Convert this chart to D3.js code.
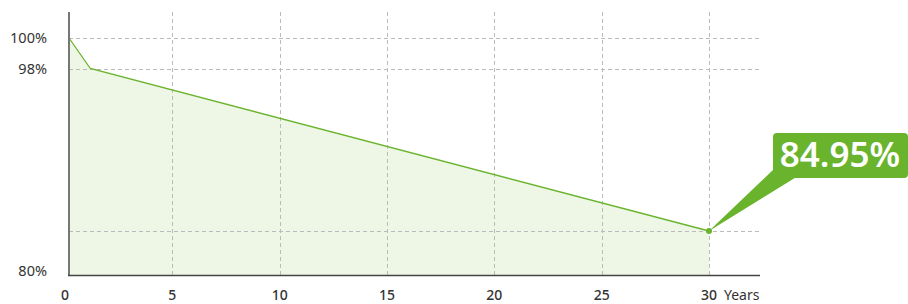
<!DOCTYPE html>
<html>
<head>
<meta charset="utf-8">
<script src="https://cdn.jsdelivr.net/npm/d3@7"></script>
<style>
  body { margin: 0; background: #fff; }
  svg { display: block; font-family: "Noto Sans", "Open Sans", sans-serif; }
</style>
</head>
<body>
<svg id="chart"></svg>
<script>
var width = 908;
var height = 304;

// data
var years = [0, 1, 30];
var retained = [100, 98, 84.95];
var xTicks = [0, 5, 10, 15, 20, 25, 30];
var yTicks = [100, 98, 80];
var yGrid = [100, 98, 84.95];
var calloutText = "84.95%";

var green = "#6ab42d";

var svg = d3.select("#chart").attr("width", width).attr("height", height);

// tick scale (labels + grid) and line scale (starts on the axis)
var xTick = d3.scaleLinear().domain([0, 30]).range([65, 709]);
var xLine = d3.scaleLinear().domain([0, 30]).range([69, 709]);
// the picture is not linear in y, so piecewise
var y = d3.scaleLinear().domain([80, 84.95, 98, 100]).range([271, 231, 68.5, 38]);

var plotLeft = 69, plotRight = 760, plotTop = 12, plotBottom = 275;

var pts = years.map(function(d, i) { return {x: d, v: retained[i]}; });

// area fill
svg.append("path")
  .datum(pts)
  .attr("fill", "#eef6e6")
  .attr("d", d3.area()
    .x(function(d) { return xLine(d.x); })
    .y0(plotBottom)
    .y1(function(d) { return y(d.v); }));

// vertical grid
svg.append("g").selectAll("line")
  .data(xTicks.filter(function(d) { return d > 0; }))
  .enter().append("line")
    .attr("x1", function(d) { return Math.round(xTick(d)) + 0.5; })
    .attr("x2", function(d) { return Math.round(xTick(d)) + 0.5; })
    .attr("y1", plotTop)
    .attr("y2", plotBottom)
    .attr("stroke", "#bbb")
    .attr("stroke-dasharray", "4,3");

// horizontal grid
svg.append("g").selectAll("line")
  .data(yGrid)
  .enter().append("line")
    .attr("x1", plotLeft)
    .attr("x2", plotRight)
    .attr("y1", function(d) { return Math.round(y(d)) + 0.5; })
    .attr("y2", function(d) { return Math.round(y(d)) + 0.5; })
    .attr("stroke", "#bbb")
    .attr("stroke-dasharray", "4,3");

// line
svg.append("path")
  .datum(pts)
  .attr("fill", "none")
  .attr("stroke", green)
  .attr("stroke-width", 1.3)
  .attr("d", d3.line()
    .x(function(d) { return xLine(d.x); })
    .y(function(d) { return y(d.v); }));

// axes
svg.append("line")
  .attr("x1", plotLeft).attr("x2", plotLeft)
  .attr("y1", plotTop).attr("y2", plotBottom + 1)
  .attr("stroke", "#777").attr("stroke-width", 2);
svg.append("line")
  .attr("x1", plotLeft - 1).attr("x2", plotRight)
  .attr("y1", plotBottom + 0.5).attr("y2", plotBottom + 0.5)
  .attr("stroke", "#444").attr("stroke-width", 1.5);

// y labels
svg.append("g").selectAll("text")
  .data(yTicks)
  .enter().append("text")
    .attr("x", 47)
    .attr("y", function(d) { return y(d); })
    .attr("dy", "0.36em")
    .attr("text-anchor", "end")
    .attr("font-size", 14.5)
    .attr("fill", "#333")
    .text(function(d) { return d + "%"; });

// x labels
svg.append("g").selectAll("text")
  .data(xTicks)
  .enter().append("text")
    .attr("x", function(d) { return xTick(d); })
    .attr("y", 300)
    .attr("text-anchor", "middle")
    .attr("font-size", 14)
    .attr("font-weight", 500)
    .attr("fill", "#333")
    .text(function(d) { return d; });

svg.append("text")
  .attr("x", 724).attr("y", 300)
  .attr("font-size", 14)
  .attr("fill", "#333")
  .text("Years");

// end point + callout
var last = pts[pts.length - 1];
var px = xLine(last.x), py = y(last.v);

svg.append("path")
  .attr("fill", green)
  .attr("d", "M" + px + "," + py + "L775,168L798,176Z");

svg.append("rect")
  .attr("x", 773).attr("y", 133)
  .attr("width", 135).attr("height", 45)
  .attr("rx", 4)
  .attr("fill", green);

svg.append("circle")
  .attr("cx", px).attr("cy", py).attr("r", 3)
  .attr("fill", green);

svg.append("text")
  .attr("x", 840).attr("y", 167)
  .attr("text-anchor", "middle")
  .attr("font-size", 35)
  .attr("font-weight", 600)
  .attr("fill", "#fff")
  .text(calloutText);
</script>
</body>
</html>
